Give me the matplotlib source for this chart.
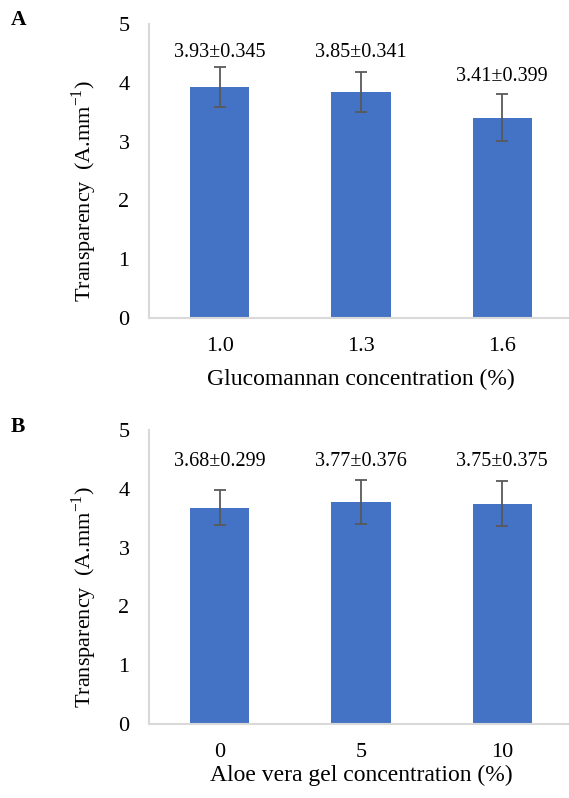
import matplotlib
matplotlib.use("Agg")
import matplotlib.pyplot as plt

plt.rcParams['font.family'] = ['Liberation Serif', 'DejaVu Serif']
plt.rcParams['mathtext.fontset'] = 'custom'
plt.rcParams['mathtext.rm'] = 'Liberation Serif'

cats_a = ["1.0", "1.3", "1.6"]
vals_a = [3.93, 3.85, 3.41]
errs_a = [0.345, 0.341, 0.399]
label_y_a = [4.51, 4.52, 4.1]

cats_b = ["0", "5", "10"]
vals_b = [3.68, 3.77, 3.75]
errs_b = [0.299, 0.376, 0.375]
label_y_b = [4.46, 4.46, 4.46]

yticks = [0, 1, 2, 3, 4, 5]

BAR = "#4472C4"
ERR = "#595959"
SPINE = "#D9D9D9"

fig = plt.figure(figsize=(5.69, 7.98), dpi=100)
axA = fig.add_axes([0.2619, 0.6015, 0.745, 0.3684])
axB = fig.add_axes([0.2619, 0.0927, 0.745, 0.3684])

def panel(ax, cats, vals, errs, ly, xlabel, xpad):
    x = list(range(len(cats)))
    ax.bar(x, vals, width=0.42, color=BAR, zorder=2)
    ax.errorbar(x, vals, yerr=errs, fmt='none', ecolor=ERR, elinewidth=1.3,
                capsize=4.5, capthick=1.3, zorder=3)
    for xi, v, e, yy in zip(x, vals, errs, ly):
        ax.text(xi, yy, f"{v:.2f}\u00b1{e:.3f}", ha='center', va='center', fontsize=14.5)
    ax.set_xlim(-0.5, 2.5)
    ax.set_ylim(0, 5)
    ax.set_yticks(yticks)
    ax.set_xticks(x)
    ax.set_xticklabels(cats)
    ax.tick_params(length=0, labelsize=16, pad=14)
    ax.tick_params(axis='y', pad=14)
    for s in ['top', 'right']:
        ax.spines[s].set_visible(False)
    for s in ['left', 'bottom']:
        ax.spines[s].set_color(SPINE)
        ax.spines[s].set_linewidth(1.5)
    ax.set_xlabel(xlabel, fontsize=17, labelpad=xpad)
    ax.set_ylabel(r"Transparency  (A.mm$^{\mathregular{-1}}$)", fontsize=16)
    ax.yaxis.set_label_coords(-0.118, 0.432)

panel(axA, cats_a, vals_a, errs_a, label_y_a, "Glucomannan concentration (%)", 9)
panel(axB, cats_b, vals_b, errs_b, label_y_b, "Aloe vera gel concentration (%)", 1.5)

fig.text(0.032, 0.975, "A", fontsize=15.5, fontweight='bold', ha='center', va='center')
fig.text(0.032, 0.465, "B", fontsize=15.5, fontweight='bold', ha='center', va='center')

fig.savefig("out.png", dpi=100)
